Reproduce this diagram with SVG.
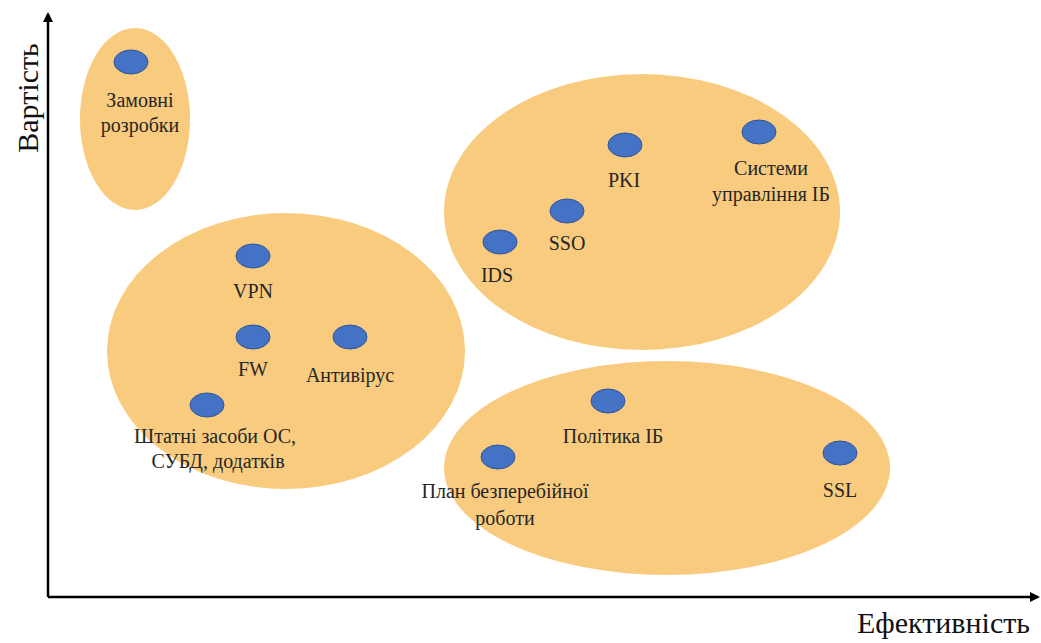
<svg xmlns="http://www.w3.org/2000/svg" width="1041" height="643" viewBox="0 0 1041 643" font-family="Liberation Serif, DejaVu Serif, serif">
  <defs>
    <style>
      .grp { fill: #F9CB7E; }
      .dot { fill: #4472C4; stroke: #2F5597; stroke-width: 1; }
      .lbl { font-size: 20px; fill: #262626; text-anchor: middle; }
      .axl { font-size: 30px; fill: #111; }
      .axis { stroke: #000; stroke-width: 2.5; fill: none; }
    </style>
    <marker id="arr" markerWidth="10" markerHeight="10" refX="8" refY="5" orient="auto" markerUnits="userSpaceOnUse">
      <path d="M0,0 L10,5 L0,10 Z" fill="#000"/>
    </marker>
  </defs>
  <rect width="1041" height="643" fill="#fff"/>

  <g id="clusters">
    <ellipse id="cluster-custom" class="grp" cx="135" cy="119" rx="55" ry="91"/>
    <ellipse id="cluster-basic" class="grp" cx="286" cy="351" rx="179" ry="138"/>
    <ellipse id="cluster-advanced" class="grp" cx="642" cy="212" rx="198" ry="138"/>
    <ellipse id="cluster-org" class="grp" cx="667" cy="468" rx="223" ry="107"/>
  </g>

  <g id="connectors">
    <line class="axis" x1="48" y1="597" x2="48" y2="14" marker-end="url(#arr)"/>
    <line class="axis" x1="48" y1="597" x2="1038" y2="597" marker-end="url(#arr)"/>
  </g>

  <text class="axl" font-family="Liberation Serif" transform="translate(38,98) rotate(-90)" text-anchor="middle">Вартість</text>
  <text class="axl" font-family="Liberation Serif" x="1030" y="633" text-anchor="end">Ефективність</text>

  <g id="node-zamovni">
    <ellipse class="dot" cx="131" cy="62" rx="17" ry="12"/>
    <text class="lbl" x="140" y="107">Замовні</text>
    <text class="lbl" x="140" y="132">розробки</text>
  </g>
  <g id="node-vpn">
    <ellipse class="dot" cx="253" cy="256" rx="17" ry="12"/>
    <text class="lbl" x="253" y="298">VPN</text>
  </g>
  <g id="node-fw">
    <ellipse class="dot" cx="253" cy="337" rx="17" ry="12"/>
    <text class="lbl" x="253" y="376">FW</text>
  </g>
  <g id="node-antivirus">
    <ellipse class="dot" cx="350" cy="337" rx="17" ry="12"/>
    <text class="lbl" x="350" y="382">Антивірус</text>
  </g>
  <g id="node-shtatni">
    <ellipse class="dot" cx="207" cy="405" rx="17" ry="12"/>
    <text class="lbl" x="215" y="443">Штатні  засоби ОС,</text>
    <text class="lbl" x="218" y="468">СУБД, додатків</text>
  </g>
  <g id="node-ids">
    <ellipse class="dot" cx="500" cy="242" rx="17" ry="12"/>
    <text class="lbl" x="497" y="282">IDS</text>
  </g>
  <g id="node-sso">
    <ellipse class="dot" cx="567" cy="211" rx="17" ry="12"/>
    <text class="lbl" x="567" y="250">SSO</text>
  </g>
  <g id="node-pki">
    <ellipse class="dot" cx="625" cy="145" rx="17" ry="12"/>
    <text class="lbl" x="624" y="187">PKI</text>
  </g>
  <g id="node-systemy">
    <ellipse class="dot" cx="759" cy="132" rx="17" ry="12"/>
    <text class="lbl" x="771" y="175">Системи</text>
    <text class="lbl" x="771" y="201">управління ІБ</text>
  </g>
  <g id="node-polityka">
    <ellipse class="dot" cx="608" cy="401" rx="17" ry="12"/>
    <text class="lbl" x="613" y="443">Політика ІБ</text>
  </g>
  <g id="node-plan">
    <ellipse class="dot" cx="498" cy="457" rx="17" ry="12"/>
    <text class="lbl" x="505" y="498">План безперебійної</text>
    <text class="lbl" x="505" y="525">роботи</text>
  </g>
  <g id="node-ssl">
    <ellipse class="dot" cx="840" cy="453" rx="17" ry="12"/>
    <text class="lbl" x="840" y="497">SSL</text>
  </g>
</svg>
